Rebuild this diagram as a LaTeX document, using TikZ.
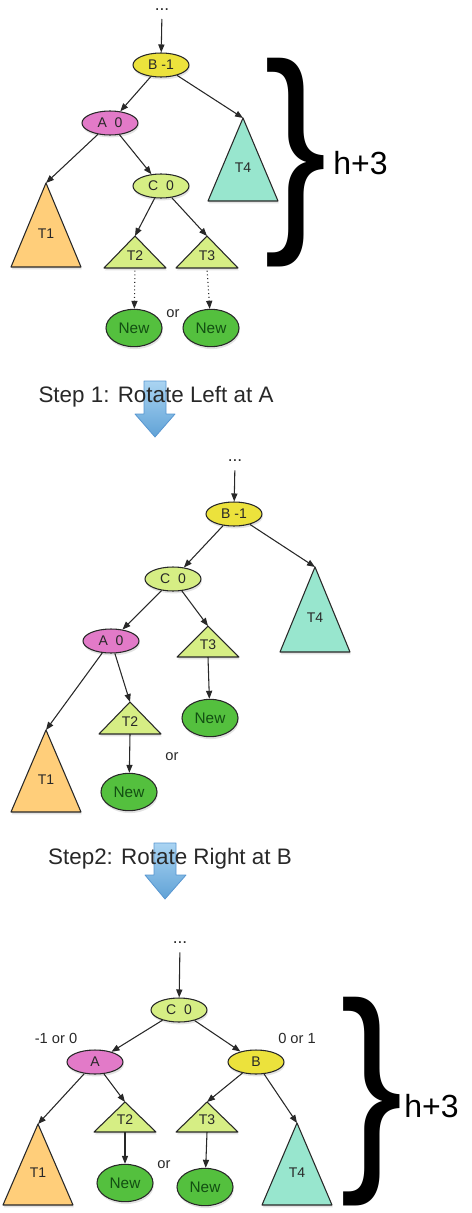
\documentclass[tikz,border=0pt]{standalone}
\usepackage{fontspec}
\setmainfont{Liberation Sans}
\usetikzlibrary{shapes.geometric, arrows.meta, shadows, calc, positioning}

\definecolor{keyB}{RGB}{236,226,60}
\definecolor{keyA}{RGB}{226,122,200}
\definecolor{keyC}{RGB}{214,238,132}
\definecolor{treeOne}{RGB}{255,206,122}
\definecolor{treeFour}{RGB}{152,230,206}
\definecolor{newFill}{RGB}{84,192,62}
\definecolor{newText}{RGB}{18,78,18}
\definecolor{inkGrey}{RGB}{40,40,40}
\definecolor{stepTop}{RGB}{170,212,242}
\definecolor{stepBot}{RGB}{96,162,214}
\definecolor{stepEdge}{RGB}{88,150,208}

\tikzset{
  edge/.style={draw=inkGrey, line width=0.8pt, -{Triangle[length=6pt,width=4.6pt]}},
  softshadow/.style={drop shadow={opacity=0.22, shadow xshift=0.6pt, shadow yshift=-1.8pt}},
  keynode/.style={ellipse, draw=inkGrey, line width=0.8pt, minimum width=42pt,
    minimum height=18pt, inner sep=0pt, text=inkGrey,
    font=\fontsize{10.5}{12}\selectfont, softshadow},
  newnode/.style={keynode, minimum height=28pt, fill=newFill, text=newText,
    font=\fontsize{11.5}{13}\selectfont},
  treeside/.style={draw=inkGrey, line width=0.8pt, line join=round, softshadow},
  treelabel/.style={inner sep=0pt, text=inkGrey, font=\fontsize{10.5}{12}\selectfont},
  dots/.style={inner sep=0pt, anchor=base, text=inkGrey, font=\fontsize{13}{14}\selectfont},
  smalltext/.style={inner sep=0pt, text=inkGrey, font=\fontsize{11}{13}\selectfont},
  steptext/.style={inner sep=0pt, text=inkGrey, font=\fontsize{16.8}{19}\selectfont},
  steparrow/.style={top color=stepTop, bottom color=stepBot, draw=stepEdge, line width=0.6pt, line join=round},
  brace/.style={inner sep=0pt, font=\fontsize{168}{168}\selectfont},
  height/.style={inner sep=0pt, anchor=west, font=\fontsize{24}{26}\selectfont}
}

% name, apex, half width, height, colour, text
\newcommand{\subtree}[6]{%
  \coordinate (#1) at #2;
  \draw[treeside, fill=#5] (#1) -- ++(-#3,#4) -- ++({2*#3},0) -- cycle;
  \coordinate (#1-b) at ($(#1)+(0,#4)$);
  \node[treelabel] (#1-t) at ($(#1)+(0,{0.6*#4})$) {#6};
}

\begin{document}
\begin{tikzpicture}[x=0.75pt, y=-0.75pt]
\useasboundingbox (0,0) rectangle (471,1213);

% before
\node[dots] (dots1) at (162,11) {...};
\node[keynode, fill=keyB] (B1) at (161,65) {B -1};
\node[keynode, fill=keyA] (A1) at (110,123) {A\ \ 0};
\node[keynode, fill=keyC] (C1) at (161,186) {C\ \ 0};
\subtree{T1a}{(46,183)}{35}{84}{treeOne}{T1}
\subtree{T2a}{(135,236)}{31}{32}{keyC}{T2}
\subtree{T3a}{(207,236)}{31}{32}{keyC}{T3}
\subtree{T4a}{(243,118)}{35}{83}{treeFour}{T4}
\node[newnode] (New1a) at (134,328) {New};
\node[newnode] (New1b) at (211,328) {New};
\node[smalltext] (or1) at (173,314) {or};
\draw[edge, shorten <=6pt] (dots1.base) -- (B1);
\draw[edge] (B1) -- (A1);
\draw[edge] (B1) -- (T4a);
\draw[edge] (A1) -- (T1a);
\draw[edge] (A1) -- (C1);
\draw[edge] (C1) -- (T2a);
\draw[edge] (C1) -- (T3a);
\draw[edge, dotted, shorten <=2pt] (T2a-b) -- (New1a);
\draw[edge, dotted, shorten <=2pt] (T3a-b) -- (New1b);
\node[brace] (brace1) at (296,163) {\scalebox{0.84}[1]{\}}};
\node[height] (h1) at (333,163) {h+3};

% step 1
\draw[steparrow] (144,381) -- (166,381) -- (166,414) -- (175,414) -- (155,437)
  -- (135,414) -- (144,414) -- cycle;
\node[steptext] (step1) at (156,397) {Step 1: Rotate Left at A};

% after left rotation
\node[dots] (dots2) at (235,461) {...};
\node[keynode, fill=keyB] (B2) at (234,514) {B -1};
\node[keynode, fill=keyC] (C2) at (173,579) {C\ \ 0};
\node[keynode, fill=keyA] (A2) at (111,641) {A\ \ 0};
\subtree{T4b}{(315,567)}{35}{85}{treeFour}{T4}
\subtree{T3b}{(208,626)}{31}{31}{keyC}{T3}
\subtree{T2b}{(130,702)}{31}{32}{keyC}{T2}
\subtree{T1b}{(46,730)}{35}{82}{treeOne}{T1}
\node[newnode] (New2a) at (210,718) {New};
\node[newnode] (New2b) at (129,792) {New};
\node[smalltext] (or2) at (172,757) {or};
\draw[edge, shorten <=7pt] (dots2.base) -- (B2);
\draw[edge] (B2) -- (C2);
\draw[edge] (B2) -- (T4b);
\draw[edge] (C2) -- (A2);
\draw[edge] (C2) -- (T3b);
\draw[edge] (A2) -- (T1b);
\draw[edge] (A2) -- (T2b);
\draw[edge] (T3b-b) -- (New2a);
\draw[edge] (T2b-b) -- (New2b);

% step 2
\draw[steparrow] (154,843) -- (176,843) -- (176,875) -- (186,875) -- (165,899)
  -- (145,875) -- (154,875) -- cycle;
\node[steptext] (step2) at (170,859) {Step2: Rotate Right at B};

% after right rotation
\node[dots] (dots3) at (180,943) {...};
\node[keynode, fill=keyC] (C3) at (179,1010) {C\ \ 0};
\node[keynode, fill=keyA] (A3) at (95,1062) {A};
\node[keynode, fill=keyB] (B3) at (256,1062) {B};
\node[smalltext] (balA) at (56,1038) {-1 or 0};
\node[smalltext] (balB) at (297,1038) {0 or 1};
\subtree{T1c}{(38,1124)}{35}{81}{treeOne}{T1}
\subtree{T2c}{(125,1102)}{31}{30}{keyC}{T2}
\subtree{T3c}{(207,1102)}{31}{30}{keyC}{T3}
\subtree{T4c}{(297,1123)}{35}{82}{treeFour}{T4}
\node[newnode] (New3a) at (125,1183) {New};
\node[newnode] (New3b) at (205,1187) {New};
\node[smalltext] (or3) at (164,1165) {or};
\draw[edge, shorten <=7pt] (dots3.base) -- (C3);
\draw[edge] (C3) -- (A3);
\draw[edge] (C3) -- (B3);
\draw[edge] (A3) -- (T1c);
\draw[edge] (A3) -- (T2c);
\draw[edge] (B3) -- (T3c);
\draw[edge] (B3) -- (T4c);
\draw[edge] (T2c-b) -- (New3a);
\draw[edge] (T3c-b) -- (New3b);
\node[brace] (brace2) at (372,1102) {\scalebox{0.84}[1]{\}}};
\node[height] (h2) at (404,1106) {h+3};
\end{tikzpicture}
\end{document}
